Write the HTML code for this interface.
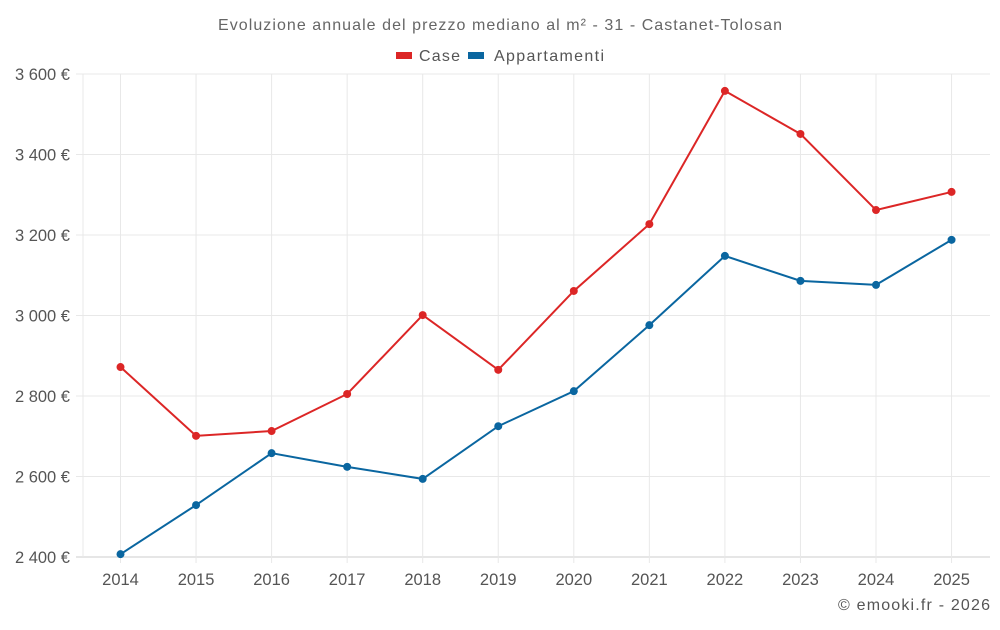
<!DOCTYPE html>
<html><head><meta charset="utf-8"><style>
body{margin:0;background:#fff;font-family:"Liberation Sans",sans-serif}
svg text{font-family:"Liberation Sans",sans-serif}
</style></head><body>
<svg id="c" width="1000" height="625">
<text x="218" y="30" textLength="564" font-size="16" fill="#666">Evoluzione annuale del prezzo mediano al m² - 31 - Castanet-Tolosan</text>
<g><rect x="396" y="52" width="16" height="7" fill="#dc2626"/><text x="419" y="61" textLength="41" font-size="16" fill="#555">Case</text></g>
<g><rect x="468" y="52" width="16" height="7" fill="#0a66a0"/><text x="494" y="61" textLength="110" font-size="16" fill="#555">Appartamenti</text></g>
<text x="838" y="610" textLength="152" font-size="16" fill="#555">© emooki.fr - 2026</text>
<g id="grid"></g><g id="series"></g>
</svg>
<script>
const years=["2014","2015","2016","2017","2018","2019","2020","2021","2022","2023","2024","2025"];
const caseVals=[2872,2701,2713,2805,3001,2865,3061,3227,3558,3451,3262,3307];
const appVals=[2407,2529,2658,2624,2594,2725,2812,2976,3148,3086,3076,3188];
const yTicks=[2400,2600,2800,3000,3200,3400,3600];
const yTickLabels=["2 400 €","2 600 €","2 800 €","3 000 €","3 200 €","3 400 €","3 600 €"];
const L=83,R=990,T=74,B=557,ymin=2400,ymax=3600;
const x=i=>120.5+i*75.55;
const y=v=>B-(v-ymin)/(ymax-ymin)*(B-T);
const NS="http://www.w3.org/2000/svg";
function mk(t,a,p){const e=document.createElementNS(NS,t);for(const k in a)e.setAttribute(k,a[k]);p.appendChild(e);return e;}
const g=document.getElementById('grid'),s=document.getElementById('series');
yTicks.forEach((v,i)=>{
 const ln=mk('line',{x1:76,x2:R,y1:y(v),y2:y(v),stroke:i==0?'#ccc':'#e8e8e8'},g);
 
 
 const t=mk('text',{x:70,y:y(v)+6,'text-anchor':'end','font-size':16.5,fill:'#555'},g);t.textContent=yTickLabels[i];
 
 
});
mk('line',{x1:L,x2:L,y1:T,y2:B,stroke:'#e8e8e8'},g);
years.forEach((yr,i)=>{
 const ln=mk('line',{x1:x(i),x2:x(i),y1:T,y2:B+6,stroke:'#e8e8e8'},g);
 
 
 const t=mk('text',{x:x(i),y:585,'text-anchor':'middle','font-size':16.5,fill:'#555'},g);t.textContent=yr;
 
 
});
function series(vals,col,name){
 const p=mk('polyline',{points:vals.map((v,i)=>x(i)+','+y(v)).join(' '),fill:'none',stroke:col,'stroke-width':2},s);
 
 
 vals.forEach((v,i)=>{const c=mk('circle',{cx:x(i),cy:y(v),r:4,fill:col},s);
  
  });
}
series(caseVals,'#dc2626','case');
series(appVals,'#0a66a0','appartamenti');
</script>
</body></html>
